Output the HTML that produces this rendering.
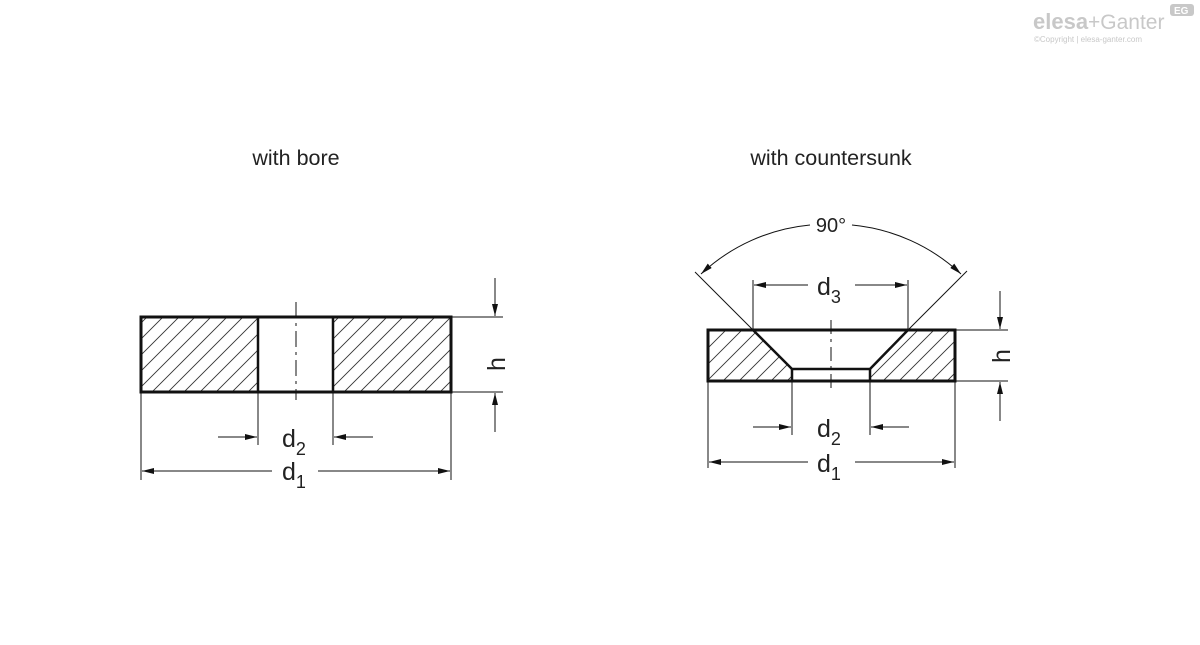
<!DOCTYPE html>
<html><head><meta charset="utf-8"><style>
body{margin:0;background:#fff;}
svg{display:block}
text{font-family:"Liberation Sans",sans-serif;fill:#222}
</style></head><body>
<svg width="1200" height="645" viewBox="0 0 1200 645" xmlns="http://www.w3.org/2000/svg">
<defs>
<pattern id="h" patternUnits="userSpaceOnUse" width="16" height="16">
<path d="M0,16 L16,0 M-4,4 L4,-4 M12,20 L20,12" stroke="#333" stroke-width="0.9" fill="none"/>
</pattern>
<marker id="a" viewBox="0 0 12 6" refX="12" refY="3" markerWidth="12" markerHeight="6" markerUnits="userSpaceOnUse" orient="auto"><path d="M0,0L12,3L0,6z" fill="#111"/></marker>
</defs>
<!-- logo -->
<text x="1033" y="29" font-size="22" font-weight="bold" style="fill:#c8c8c8">elesa</text>
<text x="1088" y="29" font-size="21" style="fill:#c8c8c8">+Ganter</text>
<rect x="1170" y="4" width="24" height="12" rx="3" fill="#c8c8c8"/>
<text x="1174" y="14" font-size="10" font-weight="bold" style="fill:#fff">EG</text>
<text x="1034" y="42" font-size="8" style="fill:#c8c8c8">©Copyright | elesa-ganter.com</text>

<text x="296" y="165" font-size="21.5" text-anchor="middle">with bore</text>
<text x="831" y="165" font-size="21.5" text-anchor="middle">with countersunk</text>

<!-- LEFT -->
<g stroke="#111" fill="none">
<rect x="141" y="317" width="117" height="75" fill="url(#h)" stroke="none"/>
<rect x="333" y="317" width="118" height="75" fill="url(#h)" stroke="none"/>
<rect x="141" y="317" width="310" height="75" stroke-width="3"/>
<line x1="258" y1="317" x2="258" y2="392" stroke-width="2.5"/>
<line x1="333" y1="317" x2="333" y2="392" stroke-width="2.5"/>
<line x1="296" y1="302" x2="296" y2="400" stroke-width="1" stroke-dasharray="16,5,3,5"/>
<line x1="451" y1="317" x2="503" y2="317" stroke-width="1"/>
<line x1="451" y1="392" x2="503" y2="392" stroke-width="1"/>
<line x1="495" y1="278" x2="495" y2="316" stroke-width="1" marker-end="url(#a)"/>
<line x1="495" y1="432" x2="495" y2="393" stroke-width="1" marker-end="url(#a)"/>
<line x1="258" y1="392" x2="258" y2="445" stroke-width="1"/>
<line x1="333" y1="392" x2="333" y2="445" stroke-width="1"/>
<line x1="218" y1="437" x2="257" y2="437" stroke-width="1" marker-end="url(#a)"/>
<line x1="373" y1="437" x2="334" y2="437" stroke-width="1" marker-end="url(#a)"/>
<line x1="141" y1="392" x2="141" y2="480" stroke-width="1"/>
<line x1="451" y1="392" x2="451" y2="480" stroke-width="1"/>
<line x1="272" y1="471" x2="142" y2="471" stroke-width="1" marker-end="url(#a)"/>
<line x1="318" y1="471" x2="450" y2="471" stroke-width="1" marker-end="url(#a)"/>
</g>
<text x="282" y="447" font-size="25">d<tspan font-size="18" dy="8">2</tspan></text>
<text x="282" y="480" font-size="25">d<tspan font-size="18" dy="8">1</tspan></text>
<text x="0" y="0" font-size="25" transform="translate(505,364) rotate(-90)" text-anchor="middle">h</text>

<!-- RIGHT -->
<g stroke="#111" fill="none">
<path d="M708,330 L753,330 L792,369 L792,381 L708,381 Z" fill="url(#h)" stroke="none"/>
<path d="M908,330 L955,330 L955,381 L870,381 L870,369 Z" fill="url(#h)" stroke="none"/>
<rect x="708" y="330" width="247" height="51" stroke-width="3"/>
<path d="M753,330 L792,369 L870,369 L908,330" stroke-width="2.5"/>
<line x1="792" y1="369" x2="792" y2="381" stroke-width="2.5"/>
<line x1="870" y1="369" x2="870" y2="381" stroke-width="2.5"/>
<line x1="831" y1="320" x2="831" y2="393" stroke-width="1" stroke-dasharray="14,5,3,5"/>
<line x1="753" y1="330" x2="695" y2="272" stroke-width="1"/>
<line x1="908" y1="330" x2="967" y2="271" stroke-width="1"/>
<path d="M810,225 A185,185 0 0 0 701,274" stroke-width="1" marker-end="url(#a)"/>
<path d="M852,225 A185,185 0 0 1 961,274" stroke-width="1" marker-end="url(#a)"/>
<line x1="753" y1="280" x2="753" y2="330" stroke-width="1"/>
<line x1="908" y1="280" x2="908" y2="330" stroke-width="1"/>
<line x1="808" y1="285" x2="754" y2="285" stroke-width="1" marker-end="url(#a)"/>
<line x1="855" y1="285" x2="907" y2="285" stroke-width="1" marker-end="url(#a)"/>
<line x1="955" y1="330" x2="1008" y2="330" stroke-width="1"/>
<line x1="955" y1="381" x2="1008" y2="381" stroke-width="1"/>
<line x1="1000" y1="291" x2="1000" y2="329" stroke-width="1" marker-end="url(#a)"/>
<line x1="1000" y1="421" x2="1000" y2="382" stroke-width="1" marker-end="url(#a)"/>
<line x1="792" y1="381" x2="792" y2="435" stroke-width="1"/>
<line x1="870" y1="381" x2="870" y2="435" stroke-width="1"/>
<line x1="753" y1="427" x2="791" y2="427" stroke-width="1" marker-end="url(#a)"/>
<line x1="909" y1="427" x2="871" y2="427" stroke-width="1" marker-end="url(#a)"/>
<line x1="708" y1="381" x2="708" y2="468" stroke-width="1"/>
<line x1="955" y1="381" x2="955" y2="468" stroke-width="1"/>
<line x1="808" y1="462" x2="709" y2="462" stroke-width="1" marker-end="url(#a)"/>
<line x1="855" y1="462" x2="954" y2="462" stroke-width="1" marker-end="url(#a)"/>
</g>
<text x="831" y="232" font-size="20" text-anchor="middle">90°</text>
<text x="817" y="295" font-size="25">d<tspan font-size="18" dy="8">3</tspan></text>
<text x="817" y="437" font-size="25">d<tspan font-size="18" dy="8">2</tspan></text>
<text x="817" y="472" font-size="25">d<tspan font-size="18" dy="8">1</tspan></text>
<text x="0" y="0" font-size="25" transform="translate(1010,356) rotate(-90)" text-anchor="middle">h</text>
</svg>
</body></html>
